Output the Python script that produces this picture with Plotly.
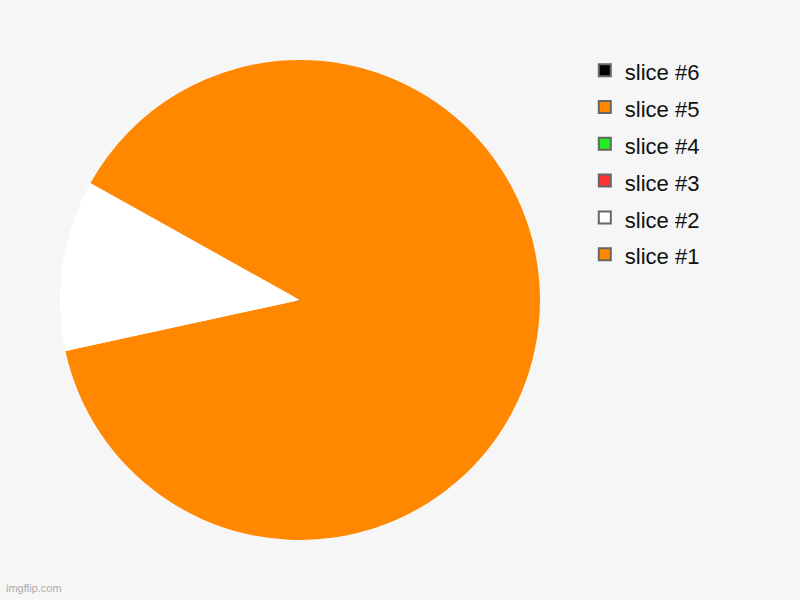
import plotly.graph_objects as go

# slice labels, values and colours
labels = ["slice #1", "slice #2", "slice #3", "slice #4", "slice #5", "slice #6"]
values = [71.6, 11.5, 0, 0, 16.9, 0]
colors = ["#ff8800", "#ffffff", "#ff3333", "#22ee22", "#ff8800", "#000000"]

legend_text = [f'<span style="font-size:22px">{lab}</span>' for lab in labels]

fig = go.Figure()

# small pie hidden under the main one, only there to give the legend its grey-edged squares
fig.add_trace(
    go.Pie(
        labels=legend_text,
        values=values,
        marker=dict(colors=colors, line=dict(color="#666666", width=2)),
        sort=False,
        direction="clockwise",
        textinfo="none",
        hoverinfo="skip",
        domain=dict(x=[0.37, 0.38], y=[0.49, 0.51]),
        showlegend=True,
    )
)

fig.add_trace(
    go.Pie(
        labels=legend_text,
        values=values,
        marker=dict(colors=colors, line=dict(width=0)),
        sort=False,
        direction="clockwise",
        textinfo="none",
        hovertemplate="%{label}: %{value}<extra></extra>",
        domain=dict(x=[0.075, 0.675], y=[0.1, 0.9]),
        showlegend=False,
    )
)

fig.add_annotation(
    text="imgflip.com",
    x=0.005, y=0.006,
    xref="paper", yref="paper",
    xanchor="left", yanchor="bottom",
    showarrow=False,
    font=dict(size=11, color="#aaaaaa"),
)

fig.update_layout(
    width=800,
    height=600,
    margin=dict(l=0, r=0, t=0, b=0),
    paper_bgcolor="#f6f6f6",
    plot_bgcolor="#f6f6f6",
    font=dict(family="Liberation Sans, Arial, sans-serif", color="#111111"),
    legend=dict(
        x=0.731,
        y=0.922,
        xanchor="left",
        yanchor="top",
        traceorder="reversed",
        font=dict(size=26),
        bgcolor="rgba(0,0,0,0)",
    ),
)

# drop the page's default body margin so the chart sits at the window's corner
fig.write_html(
    "out.html",
    config={"displayModeBar": False},
    post_script="document.body.style.margin = '0';",
)
